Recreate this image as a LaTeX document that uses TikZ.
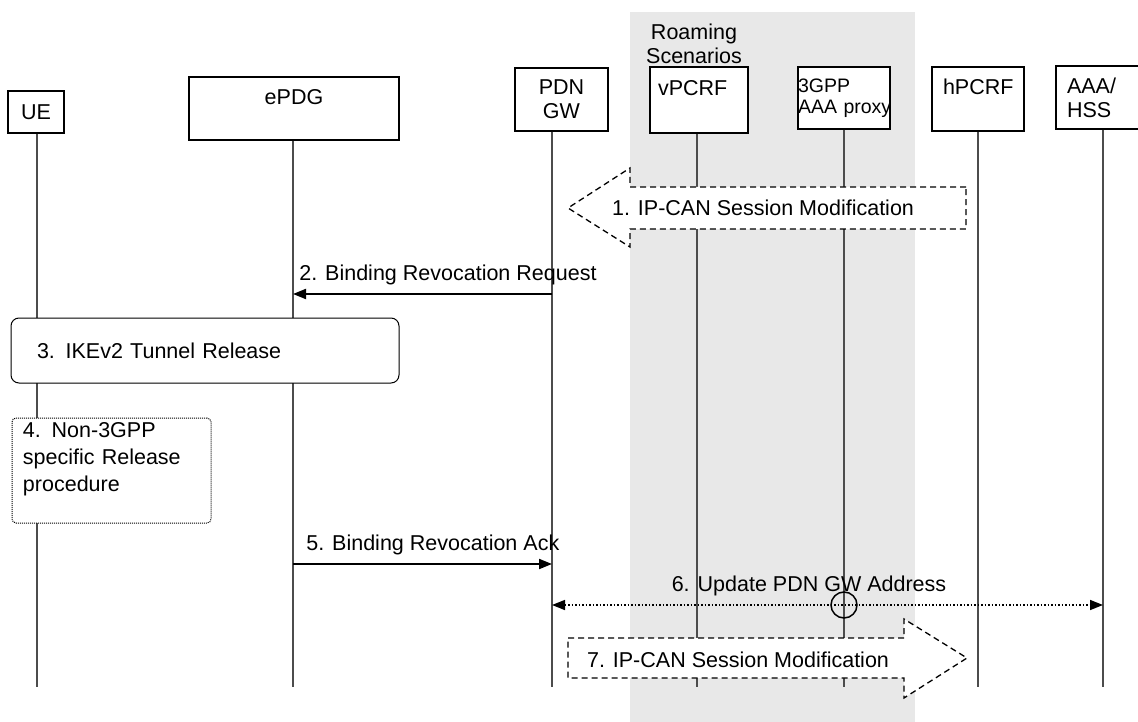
\documentclass[tikz,border=0pt]{standalone}
\usepackage{fontspec}
\setmainfont{Liberation Sans}
\usetikzlibrary{arrows.meta,positioning}
\definecolor{RoamGris}{HTML}{E8E8E8}

\begin{document}
\begin{tikzpicture}[x=1pt,y=-1pt,font=\fontsize{21.5}{24}\selectfont,
 ent/.style={draw,fill=white,line width=1.2pt,inner ysep=0pt},
 vida/.style={draw=black!70,line width=1.2pt},
 msg/.style={line width=2pt,-{Triangle[length=13pt,width=10pt]}},
 flecha/.style={draw,fill=white,line width=1.3pt,dash pattern=on 6pt off 4pt},
 proc/.style={draw,fill=white,line width=1pt,rounded corners=8pt,align=left}]
\useasboundingbox (0,0) rectangle (1138,722);
\fill[RoamGris] (630,12) rectangle (915,722);
\node[align=center] (roam) at (694,43.5) {Roaming\\Scenarios};
% entidades
\node[ent,minimum width=56pt,minimum height=42pt] (ue) at (36,112) {UE};
\node[ent,minimum width=210pt,minimum height=63pt,align=center] (epdg) at (294,108.5) {ePDG\\~};
\node[ent,minimum width=93pt,minimum height=63pt,align=center] (pdn) at (561.5,99.5) {PDN\\GW};
\node[ent,minimum height=66pt,text width=82pt,inner xsep=8pt,align=left] (vpcrf) at (699,100) {vPCRF\\~};
\node[ent,minimum height=62pt,text width=92pt,inner xsep=0pt,align=left,font=\fontsize{19.5}{21}\selectfont] (proxy) at (844,98) {3GPP\\\mbox{AAA proxy}};
\node[ent,minimum height=64pt,text width=70pt,inner xsep=11pt,align=left] (hpcrf) at (978,99) {hPCRF\\~};
\node[ent,minimum height=63pt,text width=72pt,inner xsep=11pt,align=left] (hss) at (1103,97.5) {AAA/\\HSS};
\foreach \b/\x in {ue/37,epdg/293,pdn/552,vpcrf/697,proxy/844,hpcrf/978,hss/1103}
  \draw[vida] (\x,0 |- \b.south) -- (\x,687) coordinate (\b-end);
% 1
\draw[flecha] (966,187) -- (630,187) -- (630,168) -- (568,208) -- (630,247) -- (630,229) -- (966,229) -- cycle;
\node (m1) at (763,208) {1. IP-CAN Session Modification};
% 2
\draw[msg] (pdn-end |- 0,294) -- (epdg-end |- 0,294) node[pos=1,anchor=base west,yshift=14pt,xshift=2pt] (m2) {2. Binding Revocation Request};
% 3, 4
\node[proc,minimum height=65pt,text width=336pt,inner xsep=26pt] (ike) at (205,350.5) {3. IKEv2 Tunnel Release};
\node[proc,rounded corners=4pt,dash pattern=on 1pt off 1pt,minimum height=105pt,text width=177pt,inner xsep=11pt,font=\fontsize{21.5}{27}\selectfont] (rel) at (111.5,470.5) {4. Non-3GPP\\specific Release\\procedure\\~};
% 5
\draw[msg] (epdg-end |- 0,564) -- (pdn-end |- 0,564) node[pos=0,anchor=base west,yshift=14pt,xshift=9pt] (m5) {5. Binding Revocation Ack};
% 6
\draw[line width=1.5pt,dotted,{Triangle[length=13pt,width=10pt]}-{Triangle[length=13pt,width=10pt]}] (pdn-end |- 0,605) -- (hss-end |- 0,605);
\node[anchor=base] (m6) at (809,591) {6. Update PDN GW Address};
\node[circle,draw,line width=1.5pt,minimum size=26pt,inner sep=0pt] (cruce) at (proxy-end |- 0,605) {};
% 7
\draw[flecha] (568,638) -- (904,638) -- (904,619) -- (967,658) -- (904,698) -- (904,678) -- (568,678) -- cycle;
\node (m7) at (738,660) {7. IP-CAN Session Modification};
\end{tikzpicture}
\end{document}
